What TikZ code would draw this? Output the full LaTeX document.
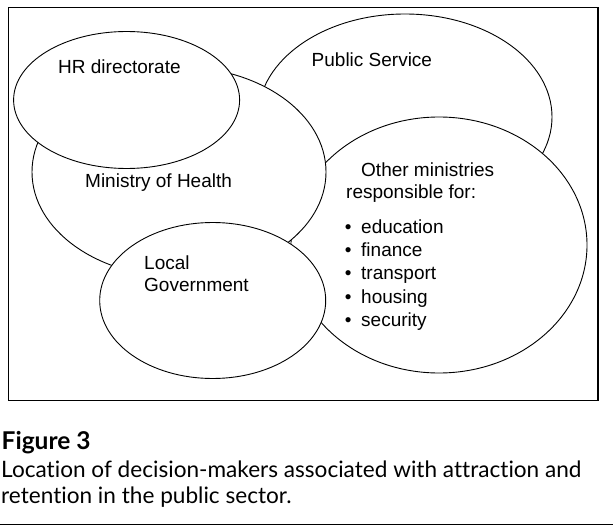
\documentclass[tikz,border=0pt]{standalone}
\usepackage{fontspec}
\setmainfont{Liberation Sans}
\newfontfamily\capfont[Ligatures=NoCommon]{Lato}
\usetikzlibrary{shapes.geometric}
\tikzset{
  ell/.style={draw, fill=white, ellipse, inner sep=0pt, line width=0.9pt},
  lbl/.style={anchor=base west, inner sep=0pt, font=\fontsize{19}{22}\selectfont},
  bul/.style={anchor=base, inner sep=0pt, font=\fontsize{19}{22}\selectfont},
  captxt/.style={anchor=base west, inner sep=0pt, font=\capfont\fontsize{22.6}{26}\selectfont},
}
\begin{document}
\begin{tikzpicture}[x=1pt,y=-1pt]
\useasboundingbox (0,0) rectangle (613,532);
\node[draw, line width=1.3pt, minimum width=589.5pt, minimum height=393pt, inner sep=0pt] (frame) at (303.25,204) {};
% ellipses, back to front
\node[ell, minimum width=294pt, minimum height=206pt] (ps) at (405,117) {};
\node[ell, minimum width=296pt, minimum height=256pt] (om) at (439,245) {};
\node[ell, minimum width=294pt, minimum height=210pt] (moh) at (179,172) {};
\node[ell, minimum width=226pt, minimum height=137pt] (hr) at (126.6,100) {};
\node[ell, minimum width=226pt, minimum height=156pt] (lg) at (212.7,300.5) {};
% labels
\node[lbl] (thr) at (58,73.5) {HR directorate};
\node[lbl] (tps) at (311.5,67) {Public Service};
\node[lbl] (tmoh) at (85,187) {Ministry of Health};
\node[lbl] (tlg1) at (144,269.3) {Local};
\node[lbl] (tlg2) at (144,291) {Government};
\node[lbl] (tom1) at (361,176.7) {Other ministries};
\node[lbl] (tom2) at (346,198.3) {responsible for:};
\node[bul] (b1) at (348.3,233.3) {\textbullet};
\node[lbl] (i1) at (361,233.3) {education};
\node[bul] (b2) at (348.3,256.6) {\textbullet};
\node[lbl] (i2) at (361,256.6) {finance};
\node[bul] (b3) at (348.3,279.9) {\textbullet};
\node[lbl] (i3) at (361,279.9) {transport};
\node[bul] (b4) at (348.3,303.2) {\textbullet};
\node[lbl] (i4) at (361,303.2) {housing};
\node[bul] (b5) at (348.3,326.5) {\textbullet};
\node[lbl] (i5) at (361,326.5) {security};
% caption
\node[captxt, font=\capfont\bfseries\fontsize{24.5}{28}\selectfont] (fig) at (1.5,449.3) {Figure 3};
\node[captxt] (c1) at (1,477.7) {Location of decision-makers associated with attraction and};
\node[captxt] (c2) at (1,503.5) {retention in the public sector.};
\coordinate (r1) at (0,524.5);
\coordinate (r2) at (613,524.5);
\draw[line width=1.2pt] (r1) -- (r2);
\end{tikzpicture}
\end{document}
